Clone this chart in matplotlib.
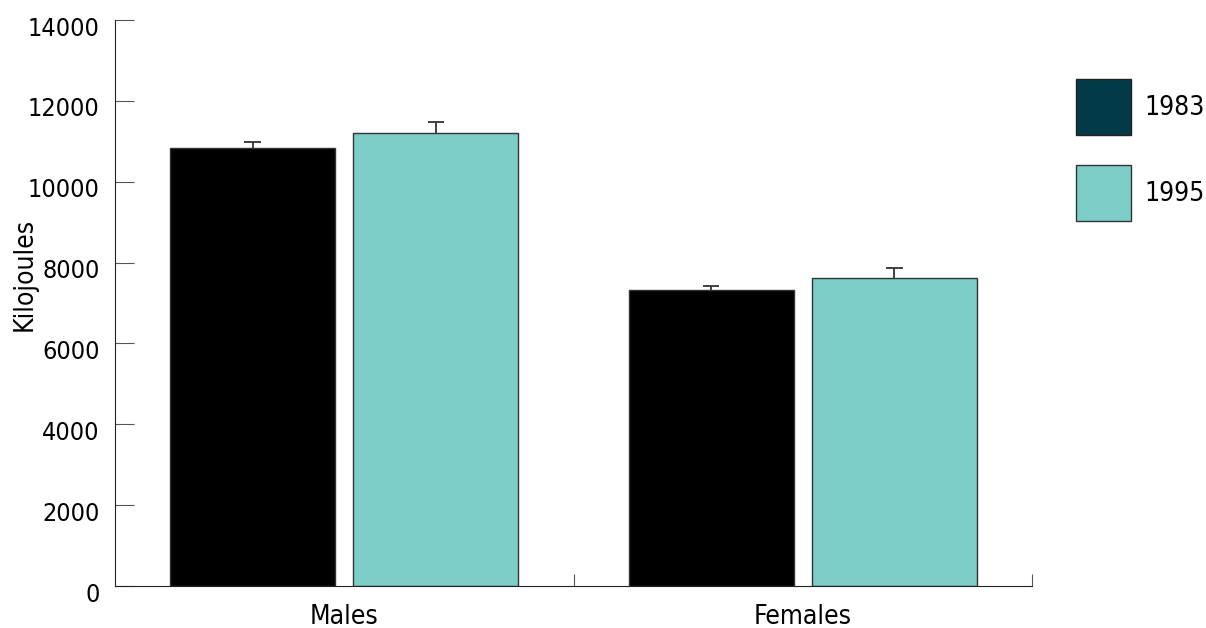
import numpy as np
import matplotlib
matplotlib.use('Agg')
import matplotlib.pyplot as plt
import matplotlib.transforms as mtransforms
from matplotlib.patches import Patch

plt.rcParams['font.family'] = ['DejaVu Sans']
plt.rcParams['font.stretch'] = 'condensed'

# Data
groups = ['Males', 'Females']
years = ['1983', '1995']
kj_1983 = [10830, 7310]
kj_1995 = [11200, 7625]
err_1983 = [145, 100]
err_1995 = [270, 235]

bar_colors = ['#000000', '#7dcdc8']
legend_colors = ['#033a47', '#7dcdc8']

fig = plt.figure(figsize=(12.06, 6.28), dpi=100)
ax = fig.add_axes([115 / 1206, 42 / 628, (1032 - 115) / 1206, (586 - 20) / 628])

x = np.arange(len(groups))
w = 0.36
cap = 0.018
for vals, errs, col, off in [(kj_1983, err_1983, bar_colors[0], -0.2),
                             (kj_1995, err_1995, bar_colors[1], 0.2)]:
    vals = np.array(vals)
    errs = np.array(errs)
    ax.bar(x + off, vals, width=w, color=col, edgecolor='#333333', linewidth=1, zorder=2)
    # upper-only error bars
    ax.vlines(x + off, vals, vals + errs, color='#333333', linewidth=1.3, zorder=1)
    ax.hlines(vals + errs, x + off - cap, x + off + cap, color='#333333', linewidth=1.3, zorder=1)

ax.set_xlim(-0.5, 1.5)
ax.set_ylim(0, 14000)
ax.set_yticks(np.arange(0, 14001, 2000))
ax.set_xticks(x)
ax.set_xticklabels(groups)
ax.set_xticks([0.5, 1.5], minor=True)

for s in ['top', 'right']:
    ax.spines[s].set_visible(False)
ax.spines['left'].set_color('#222222')
ax.spines['bottom'].set_color('#222222')

ax.tick_params(axis='y', direction='in', length=14, width=0.8, color='#555555',
               labelsize=18, pad=11)
ax.tick_params(axis='x', which='major', length=0, labelsize=19, pad=13)
ax.tick_params(axis='x', which='minor', direction='in', length=9, width=0.8,
               color='#555555')

# y tick labels sit a little below their ticks in the reference
shift = mtransforms.ScaledTranslation(0, -6 / 100, fig.dpi_scale_trans)
for lab in ax.get_yticklabels():
    lab.set_transform(lab.get_transform() + shift)

ax.set_ylabel('Kilojoules', fontsize=19)
ax.yaxis.set_label_coords(-0.084, 0.55)

handles = [Patch(facecolor=legend_colors[0], edgecolor='#222222', linewidth=1),
           Patch(facecolor=legend_colors[1], edgecolor='#333333', linewidth=1)]
fig.legend(handles, years, loc='upper left', bbox_to_anchor=(1076 / 1206, 1 - 79 / 628),
           frameon=False, fontsize=19, handlelength=2.1, handleheight=2.9,
           labelspacing=1.13, handletextpad=0.5, borderpad=0, borderaxespad=0)

fig.savefig('out.png', dpi=100)
